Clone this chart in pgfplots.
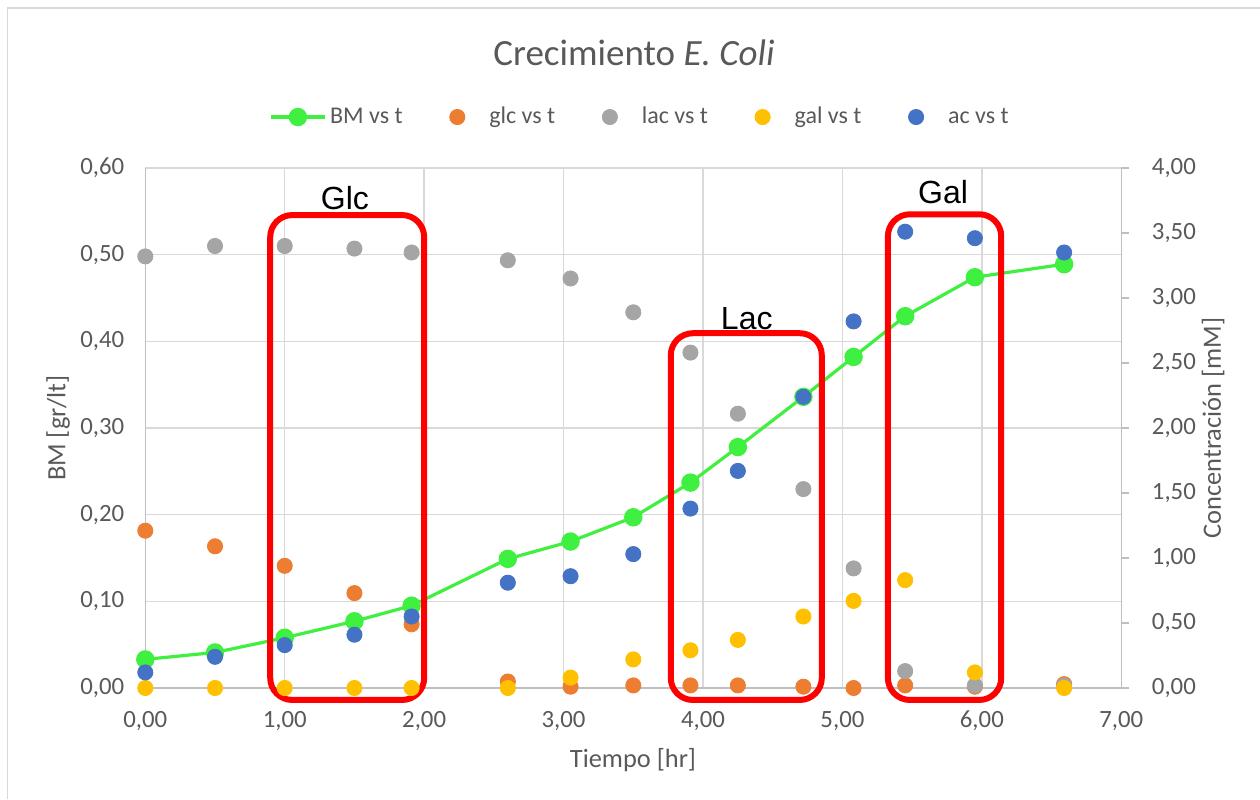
\documentclass[border=0pt]{standalone}
\usepackage{pgfplots}
\pgfplotsset{compat=1.18}
\usepackage{fontspec}
\setmainfont{Carlito}
\newfontfamily\arialfont{Liberation Sans}

\definecolor{bmgreen}{HTML}{40F040}
\definecolor{glcorange}{HTML}{ED7D31}
\definecolor{lacgray}{HTML}{A5A5A5}
\definecolor{galyellow}{HTML}{FFC000}
\definecolor{acblue}{HTML}{4472C4}
\definecolor{txtgray}{HTML}{595959}
\definecolor{gridgray}{HTML}{D9D9D9}
\definecolor{axisgray}{HTML}{BFBFBF}
\definecolor{boxred}{HTML}{FF0000}

\newcommand\tfont{\fontsize{12.4pt}{14pt}\selectfont}
\newcommand\lfont{\fontsize{13.2pt}{15pt}\selectfont}
\newcommand\legfont{\fontsize{12pt}{14pt}\selectfont}

% time [hr] and measured values
\pgfplotstableread{
t     BM     glc   lac   gal   ac
0.00  0.033  1.21  3.32  0.00  0.12
0.50  0.041  1.09  3.40  0.00  0.24
1.00  0.058  0.94  3.40  0.00  0.33
1.50  0.077  0.73  3.38  0.00  0.41
1.91  0.095  0.49  3.35  0.00  0.55
2.60  0.149  0.05  3.29  0.00  0.81
3.05  0.169  0.01  3.15  0.08  0.86
3.50  0.197  0.02  2.89  0.22  1.03
3.91  0.237  0.02  2.58  0.29  1.38
4.25  0.278  0.02  2.11  0.37  1.67
4.72  0.336  0.01  1.53  0.55  2.24
5.08  0.382  0.00  0.92  0.67  2.82
5.45  0.429  0.02  0.13  0.83  3.51
5.95  0.474  0.01  0.02  0.12  3.46
6.59  0.489  0.03  0.02  0.00  3.35
}\datatable

\pgfplotsset{
  base/.style={
    scale only axis, width=488pt, height=260pt,
    at={(72.65pt,55.5pt)}, anchor=south west,
    xmin=0, xmax=7, clip=false,
    tick label style={font=\tfont, text=txtgray},
    label style={font=\lfont, text=txtgray},
    /pgf/number format/.cd, fixed, fixed zerofill, precision=2, use comma, assume math mode=true,
  },
  dots/.style={only marks, mark=*, mark size=3.8pt, draw=#1, fill=#1,
    legend image code/.code={\path[draw=none, fill=none] (-3.8pt,0pt) -- (16pt,0pt); \draw[##1] plot coordinates {(0pt,0pt)};}},
  bmleg/.style={legend image code/.code={\path[draw=none, fill=none] (0pt,0pt) -- (29.5pt,0pt);
    \draw[mark repeat=2, mark phase=2, ##1] plot coordinates {(0pt,0pt) (13.4pt,0pt) (26.75pt,0pt)};}},
}

\begin{document}
\begin{tikzpicture}
\path[use as bounding box] (0,0) rectangle (630pt,399.5pt);
\draw[gridgray, line width=0.8pt] (3.75pt,0pt) -- (3.75pt,395.5pt) -- (630pt,395.5pt);

\node[font=\fontsize{18.5pt}{22pt}\selectfont, text=txtgray] at (317pt,373pt) {Crecimiento \textit{E. Coli}};

% biomass on the left axis
\begin{axis}[base,
  ymin=0, ymax=0.6,
  xtick={0,1,2,3,4,5,6,7},
  ytick={0,0.1,0.2,0.3,0.4,0.5,0.6},
  axis x line*=bottom, axis y line*=left,
  axis line style={axisgray, line width=0.75pt, -},
  major tick length=0pt,
  grid=major, major grid style={gridgray, line width=0.75pt},
  xticklabel style={yshift=-8pt},
  yticklabel style={xshift=-7pt},
  xlabel={Tiempo [hr]}, ylabel={BM [gr/lt]},
  xlabel style={at={(axis description cs:0.4997,-0.1385)}, anchor=center},
  ylabel style={at={(axis description cs:-0.0894,0.5)}, anchor=center},
]
\addplot[bmgreen, line width=1.6pt, mark=*, mark size=3.8pt] table[x=t, y=BM] {\datatable};
\end{axis}

% concentrations on the right axis
\begin{axis}[base,
  ymin=0, ymax=4,
  ytick={0,0.5,1,1.5,2,2.5,3,3.5,4},
  axis x line=none, axis y line*=right,
  axis line style={axisgray, line width=0.75pt, -},
  tick align=outside, major tick length=4pt,
  tick style={axisgray, line width=0.75pt},
  yticklabel style={xshift=7.8pt},
  ylabel={Concentración [mM]},
  ylabel style={at={(axis description cs:1.094,0.5)}, anchor=center},
  legend columns=5,
  legend style={draw=none, fill=none, at={(axis description cs:0.506,1.098)}, anchor=center,
    font=\legfont, text=txtgray, inner sep=0pt,
    nodes={inner xsep=0pt, inner ysep=2pt},
    /tikz/every even column/.append style={column sep=23.5pt},
    /tikz/every odd column/.append style={column sep=0pt}},
]
\addlegendimage{bmgreen, line width=1.6pt, mark=*, mark size=3.8pt, bmleg}
\addlegendentry{BM vs t}
\addplot[dots=glcorange] table[x=t, y=glc] {\datatable};
\addlegendentry{glc vs t}
\addplot[dots=lacgray] table[x=t, y=lac] {\datatable};
\addlegendentry{lac vs t}
\addplot[dots=galyellow] table[x=t, y=gal] {\datatable};
\addlegendentry{gal vs t}
\addplot[dots=acblue] table[x=t, y=ac] {\datatable};
\addlegendentry{ac vs t}

% highlighted consumption phases
\draw[boxred, line width=3pt, rounded corners=11pt] (axis cs:0.896,-0.092) rectangle (axis cs:2.0,3.638);
\draw[boxred, line width=3pt, rounded corners=11pt] (axis cs:3.769,-0.092) rectangle (axis cs:4.852,2.729);
\draw[boxred, line width=3pt, rounded corners=11pt] (axis cs:5.326,-0.092) rectangle (axis cs:6.139,3.644);
\node[anchor=base, font=\arialfont\fontsize{16pt}{19pt}\selectfont] at (axis cs:1.432,3.677) {Glc};
\node[anchor=base, font=\arialfont\fontsize{16pt}{19pt}\selectfont] at (axis cs:4.314,2.761) {Lac};
\node[anchor=base, font=\arialfont\fontsize{16pt}{19pt}\selectfont] at (axis cs:5.722,3.727) {Gal};
\end{axis}
\end{tikzpicture}
\end{document}
